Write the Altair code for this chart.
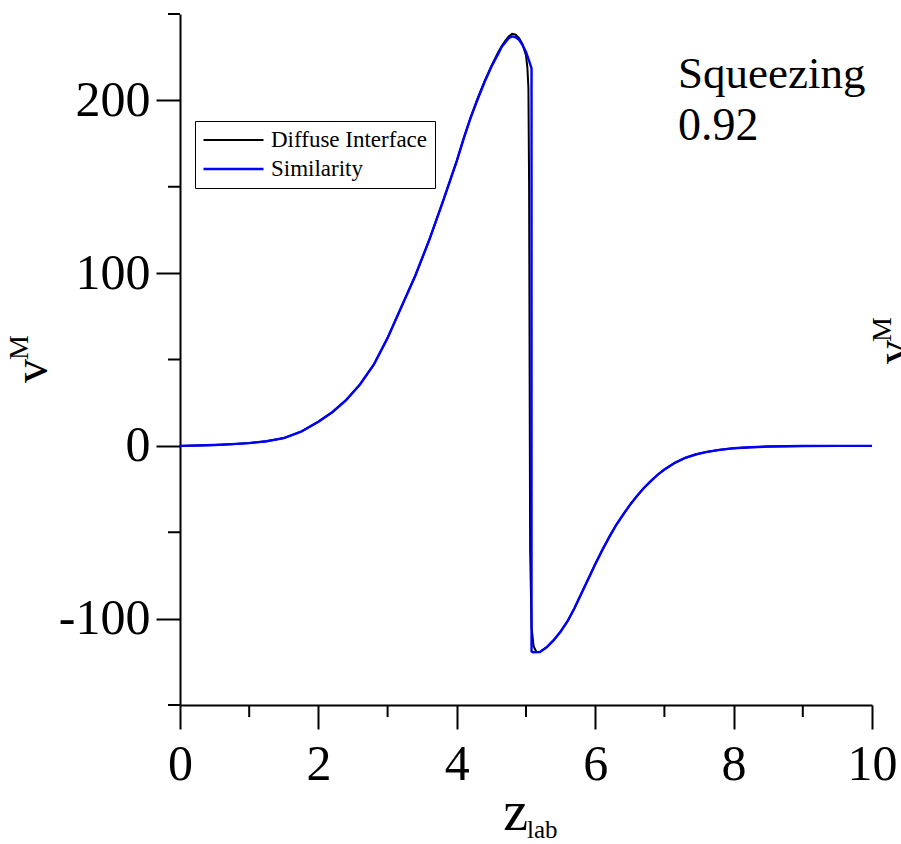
import altair as alt
import pandas as pd

FONT = "Liberation Serif"

# ---- data ----
di_z = [0.0, 0.25, 0.5, 0.75, 1.0, 1.25, 1.5, 1.75, 2.0, 2.2, 2.4, 2.6, 2.8, 3.0, 3.2,
        3.4, 3.6, 3.8, 4.0, 4.1, 4.2, 4.3, 4.4, 4.5, 4.6, 4.65, 4.7, 4.75, 4.8, 4.85,
        4.9, 4.95, 5.0, 5.02, 5.035, 5.045, 5.06, 5.08, 5.11, 5.15, 5.2, 5.3, 5.4,
        5.5, 5.6, 5.7, 5.8, 5.9, 6.0, 6.1, 6.2, 6.3, 6.4, 6.5, 6.6, 6.7, 6.8, 6.9,
        7.0, 7.15, 7.3, 7.45, 7.6, 7.8, 8.0, 8.25, 8.5, 9.0, 9.5, 10.0]
di_v = [0.0, 0.2, 0.5, 1.0, 1.6, 2.7, 4.5, 8.2, 14.0, 19.5, 26.5, 35.5, 47.0, 62.5,
        80.5, 98.5, 119.0, 141.5, 165.0, 178.0, 190.0, 201.0, 211.0, 220.0, 228.0,
        231.5, 234.5, 237.0, 238.5, 238.0, 236.0, 232.5, 226.0, 219.0, 207.0, 150.0,
        -60.0, -105.0, -116.0, -119.3, -119.3, -116.5, -112.5, -107.5, -101.5, -94.0,
        -85.5, -77.0, -68.5, -60.5, -53.0, -46.0, -40.0, -34.3, -29.2, -24.5, -20.5,
        -16.8, -13.7, -9.8, -7.0, -5.0, -3.6, -2.3, -1.4, -0.8, -0.4, -0.1, 0.0, 0.0]

sim_z = [0.0, 0.25, 0.5, 0.75, 1.0, 1.25, 1.5, 1.75, 2.0, 2.2, 2.4, 2.6, 2.8, 3.0, 3.2,
         3.4, 3.6, 3.8, 4.0, 4.1, 4.2, 4.3, 4.4, 4.5, 4.6, 4.65, 4.7, 4.75, 4.8, 4.85,
         4.9, 4.95, 5.0, 5.04, 5.08, 5.08, 5.1, 5.2, 5.3, 5.4, 5.5, 5.6, 5.7, 5.8,
         5.9, 6.0, 6.1, 6.2, 6.3, 6.4, 6.5, 6.6, 6.7, 6.8, 6.9, 7.0, 7.15, 7.3, 7.45,
         7.6, 7.8, 8.0, 8.25, 8.5, 9.0, 9.5, 10.0]
sim_v = [0.0, 0.2, 0.5, 1.0, 1.6, 2.7, 4.5, 8.2, 14.0, 19.5, 26.5, 35.5, 47.0, 62.5,
         80.5, 98.5, 119.0, 141.5, 165.0, 178.0, 190.0, 200.5, 210.5, 219.5, 227.0,
         231.0, 233.5, 236.0, 237.0, 236.5, 235.0, 232.0, 228.0, 223.5, 218.5, -119.0,
         -119.5, -119.3, -116.5, -112.5, -107.5, -101.5, -94.0, -85.5, -77.0, -68.5,
         -60.5, -53.0, -46.0, -40.0, -34.3, -29.2, -24.5, -20.5, -16.8, -13.7, -9.8,
         -7.0, -5.0, -3.6, -2.3, -1.4, -0.8, -0.4, -0.1, 0.0, 0.0]

series_names = ["Diffuse Interface", "Similarity"]
series_colors = ["#000000", "#0000ff"]
series_widths = [2.0, 2.4]

x_major = [0, 2, 4, 6, 8, 10]
x_minor = [1, 3, 5, 7, 9]
y_major = [-100, 0, 100, 200]
y_minor = [-150, -50, 50, 150, 250]

annotation = ["Squeezing", "0.92"]
x_title = ["z", "lab"]
y_title = ["v", "M"]

# ---- tables ----
rows = []
for i, (z, v) in enumerate(zip(di_z, di_v)):
    rows.append({"z": z, "v": v, "series": series_names[0], "idx": i})
for i, (z, v) in enumerate(zip(sim_z, sim_v)):
    rows.append({"z": z, "v": v, "series": series_names[1], "idx": i})
df = pd.DataFrame(rows)

W, H = 692, 691
xs = alt.Scale(domain=[0, 10], nice=False, zero=False)
ys = alt.Scale(domain=[-150, 250], nice=False, zero=False)

axis_common = dict(
    title=None, grid=False, domainColor="black", domainWidth=2, tickColor="black",
    tickWidth=2, tickSize=24, labelFont=FONT, labelFontSize=50, labelColor="black",
    labelFlush=False, labelOverlap=False, labelBound=False,
    labelExpr="replace(datum.label, '\u2212', '-')",
)
x_axis = alt.Axis(values=x_major, labelPadding=10, **axis_common)
y_axis = alt.Axis(values=y_major, labelPadding=6, **axis_common)


def xenc(field):
    return alt.X(field, scale=xs, axis=x_axis)


def yenc(field):
    return alt.Y(field, scale=ys, axis=y_axis)


lines = alt.Chart(df).mark_line(clip=False).encode(
    x=xenc("z:Q"),
    y=yenc("v:Q"),
    color=alt.Color(
        "series:N",
        scale=alt.Scale(domain=series_names, range=series_colors),
        legend=alt.Legend(
            title=None, orient="none", legendX=15, legendY=107, symbolType="stroke",
            symbolSize=3600, symbolStrokeWidth=2, labelFont=FONT, labelFontSize=23,
            labelColor="black", labelOffset=6, strokeColor="black", padding=7,
            clipHeight=24, rowPadding=5, labelLimit=400,
        ),
    ),
    strokeWidth=alt.StrokeWidth(
        "series:N", scale=alt.Scale(domain=series_names, range=series_widths), legend=None
    ),
    order="idx:Q",
)

y_minor_ticks = alt.Chart(pd.DataFrame({"v": y_minor})).mark_rule(
    color="black", strokeWidth=2, clip=False
).encode(y=yenc("v:Q"), x=alt.value(-12), x2=alt.value(0))

x_minor_ticks = alt.Chart(pd.DataFrame({"z": x_minor})).mark_rule(
    color="black", strokeWidth=2, clip=False
).encode(x=xenc("z:Q"), y=alt.value(H), y2=alt.value(H + 12))

ann1 = alt.Chart(pd.DataFrame({"t": [annotation[0]]})).mark_text(
    font=FONT, fontSize=45, align="left", baseline="alphabetic", color="black"
).encode(text="t:N", x=alt.value(498), y=alt.value(74))
ann2 = alt.Chart(pd.DataFrame({"t": [annotation[1]]})).mark_text(
    font=FONT, fontSize=46, align="left", baseline="alphabetic", color="black"
).encode(text="t:N", x=alt.value(498), y=alt.value(126))

xt_main = alt.Chart(pd.DataFrame({"t": [x_title[0]]})).mark_text(
    font=FONT, fontSize=56, align="right", baseline="alphabetic", color="black"
).encode(text="t:N", x=alt.value(348), y=alt.value(816))
xt_sub = alt.Chart(pd.DataFrame({"t": [x_title[1]]})).mark_text(
    font=FONT, fontSize=25, align="left", baseline="alphabetic", color="black"
).encode(text="t:N", x=alt.value(347), y=alt.value(824))


def ytitle(xv, yv, xm, ym):
    a = alt.Chart(pd.DataFrame({"t": [y_title[0]]})).mark_text(
        font=FONT, fontSize=48, align="left", baseline="alphabetic", color="black", angle=270
    ).encode(text="t:N", x=alt.value(xv), y=alt.value(yv))
    b = alt.Chart(pd.DataFrame({"t": [y_title[1]]})).mark_text(
        font=FONT, fontSize=28, align="left", baseline="alphabetic", color="black", angle=270
    ).encode(text="t:N", x=alt.value(xm), y=alt.value(ym))
    return a + b


yt_left = ytitle(-133, 369, -152, 346)
yt_right = ytitle(729, 350, 711, 328)

chart = alt.layer(
    lines, y_minor_ticks, x_minor_ticks, ann1, ann2, xt_main, xt_sub, yt_left, yt_right
).properties(
    width=W, height=H,
    background="white",
    autosize=alt.AutoSizeParams(type="none"),
    padding={"left": 180, "top": 14, "right": 29, "bottom": 139},
).configure_view(stroke="transparent", strokeWidth=0)

chart.save("out.html", embed_options={"renderer": "svg", "actions": False})
